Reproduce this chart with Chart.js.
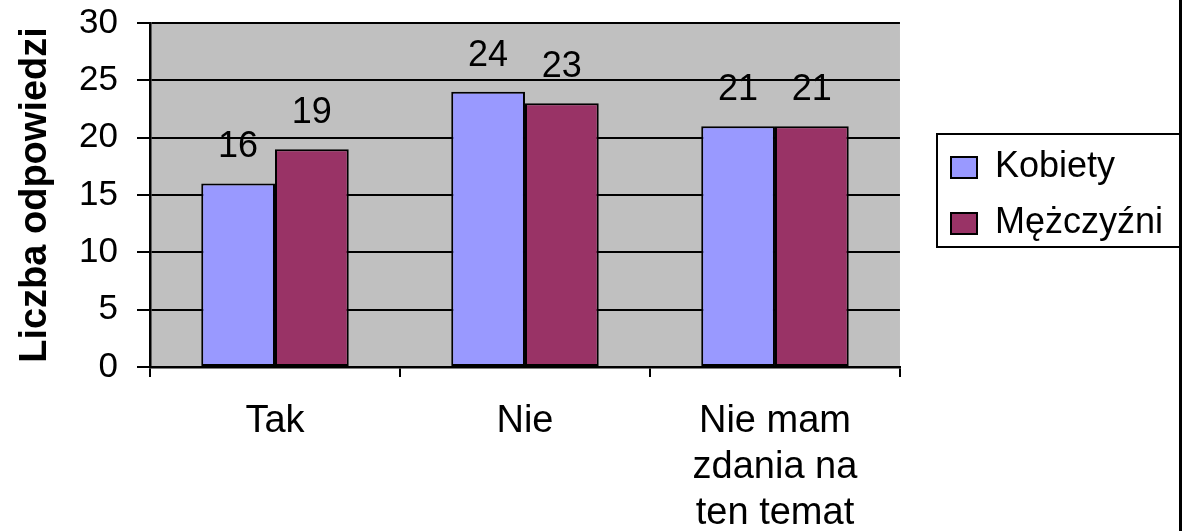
<!DOCTYPE html>
<html>
<head>
<meta charset="utf-8">
<script src="https://cdn.jsdelivr.net/npm/chart.js@4.4.1/dist/chart.umd.min.js"></script>
<style>
  html, body { margin: 0; padding: 0; background: #fff; }
  #wrap { width: 1185px; height: 531px; }
</style>
</head>
<body>
<div id="wrap"><canvas id="chart" width="1185" height="531"></canvas></div>
<script>
// Dane wykresu
const kategorie = ["Tak", "Nie", ["Nie mam", "zdania na", "ten temat"]];
const kobiety = [16, 24, 21];
const mezczyzni = [19, 23, 21];
const tytulOsiY = "Liczba odpowiedzi";

const FONT = "'Liberation Sans', Arial, sans-serif";

// Ramka legendy (px)
const RAMKA = { left: 937, top: 134, right: 1180, bottom: 247 };

// Tło obszaru wykresu, ramka legendy i linia po prawej
const tloPlugin = {
    id: "tlo",
    afterLayout(chart) {
        // przesunięcie legendy do ramki (wysokość bez zmian)
        const lg = chart.legend;
        const d = (RAMKA.top + RAMKA.bottom) / 2 + 5 - (lg.top + lg.bottom) / 2;
        lg.top += d;
        lg.bottom += d;
        const w = lg.right - lg.left;
        lg.left = RAMKA.left - 6;
        lg.right = lg.left + w;
    },
    beforeDraw(chart) {
        const { ctx, chartArea: a } = chart;
        ctx.save();
        ctx.fillStyle = "#ffffff";
        ctx.fillRect(0, 0, chart.width, chart.height);
        ctx.fillStyle = "#c0c0c0";
        ctx.fillRect(a.left, a.top, a.right - a.left, a.bottom - a.top);
        ctx.restore();
    },
    afterDraw(chart) {
        const { ctx } = chart;
        ctx.save();
        ctx.strokeStyle = "#000";
        ctx.lineWidth = 2;
        ctx.strokeRect(RAMKA.left, RAMKA.top, RAMKA.right - RAMKA.left, RAMKA.bottom - RAMKA.top);
        // pionowa linia przy prawej krawędzi
        ctx.fillStyle = "#000";
        ctx.fillRect(1179, 0, 3, chart.height);
        ctx.restore();
    }
};

// Etykiety wartości nad słupkami
const etykietyPlugin = {
    id: "etykiety",
    afterDatasetsDraw(chart) {
        const { ctx } = chart;
        ctx.save();
        ctx.font = "36px " + FONT;
        ctx.fillStyle = "#000";
        ctx.textAlign = "center";
        ctx.textBaseline = "middle";
        chart.data.datasets.forEach((ds, i) => {
            chart.getDatasetMeta(i).data.forEach((bar, j) => {
                ctx.fillText(ds.data[j], bar.x, bar.y - 36);
            });
        });
        ctx.restore();
    }
};

new Chart(document.getElementById("chart"), {
    type: "bar",
    data: {
        labels: kategorie,
        datasets: [
            {
                label: "Kobiety",
                data: kobiety,
                backgroundColor: "#9999ff",
                borderColor: "#000",
                borderWidth: 2,
                borderSkipped: false,
                categoryPercentage: 0.59,
                barPercentage: 1.0
            },
            {
                label: "Mężczyźni",
                data: mezczyzni,
                backgroundColor: "#993366",
                borderColor: "#000",
                borderWidth: 2,
                borderSkipped: false,
                categoryPercentage: 0.59,
                barPercentage: 1.0
            }
        ]
    },
    options: {
        responsive: false,
        animation: false,
        layout: { padding: { top: 23, right: 43, left: 0, bottom: 0 } },
        plugins: {
            tooltip: { enabled: false },
            legend: {
                position: "right",
                align: "center",
                labels: {
                    boxWidth: 26,
                    boxHeight: 21,
                    padding: 20,
                    color: "#000",
                    font: { family: FONT, size: 36 }
                }
            }
        },
        scales: {
            x: {
                offset: true,
                grid: {
                    offset: true,
                    drawOnChartArea: false,
                    drawTicks: true,
                    tickLength: 10,
                    color: "#000",
                    lineWidth: 2
                },
                border: { color: "#000", width: 2.5 },
                ticks: {
                    color: "#000",
                    padding: 22,
                    maxRotation: 0,
                    autoSkip: false,
                    font: { family: FONT, size: 38, lineHeight: 1.21 }
                },
                afterFit(scale) { scale.height = 164; }
            },
            y: {
                min: 0,
                max: 30,
                grid: {
                    color: "#000",
                    lineWidth: 2,
                    drawTicks: true,
                    tickLength: 13
                },
                border: { color: "#000", width: 2.5 },
                ticks: {
                    stepSize: 5,
                    color: "#000",
                    padding: 19,
                    // mała wysokość linii, żeby nie powiększać górnego marginesu
                    font: { family: FONT, size: 35, lineHeight: 0.2 }
                },
                title: {
                    display: true,
                    text: tytulOsiY,
                    color: "#000",
                    padding: { top: 13, bottom: 0 },
                    font: { family: FONT, size: 38, weight: "bold" }
                },
                afterFit(scale) { scale.width = 150; }
            }
        }
    },
    plugins: [tloPlugin, etykietyPlugin]
});
</script>
</body>
</html>
